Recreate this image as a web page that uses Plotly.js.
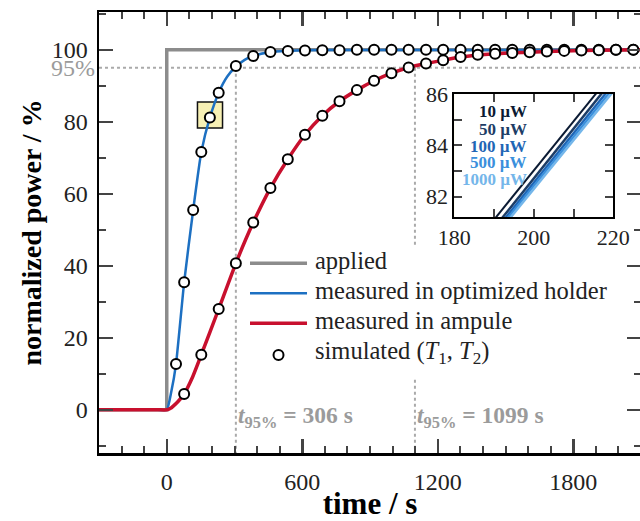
<!DOCTYPE html>
<html><head><meta charset="utf-8">
<script src="https://cdn.plot.ly/plotly-3.0.1.min.js"></script>
<style>html,body{margin:0;padding:0;overflow:hidden;background:#fff}</style>
</head><body><div id="chart" style="width:642px;height:521px"></div>
<script>
// ---- data ----
const appliedT = [-300, 0, 0, 2100];
const appliedP = [0, 0, 100, 100];

const holderT = [-300, -150, -40, 0, 20, 41, 77, 117, 153, 191, 230, 268, 306, 345, 383, 459, 536, 612, 765, 2100];
const holderP = [0, 0, 0, 0, 5, 12.7, 35.4, 55.5, 71.6, 81.2, 88.1, 92.6, 95.3, 97.2, 98.3, 99.4, 99.7, 99.85, 99.95, 100];

const ampuleT = [-300, -150, -40, 0, 15, 30, 50, 77, 115, 153, 230, 306, 383, 459, 536, 612, 689, 765, 842, 918, 995, 1071, 1148, 1224, 1301, 1454, 1607, 1760, 1913, 2100];
const ampuleP = [0, 0, 0, 0, 0.35, 1.1, 2.3, 4.4, 9.2, 15.3, 28, 40.7, 52, 61.6, 69.6, 76.4, 81.7, 85.7, 88.8, 91.4, 93.5, 95.1, 96.2, 97.1, 98, 98.9, 99.3, 99.7, 99.9, 100];

const simHolderT = [41, 77, 117, 153, 191, 230, 306, 383, 459, 536, 612, 689, 765, 842, 918, 995, 1071, 1148, 1224, 1301, 1377, 1454, 1530, 1607, 1683, 1760, 1836, 1913, 1989, 2066];
const simHolderP = [12.7, 35.4, 55.5, 71.6, 81.2, 88.1, 95.5, 98.3, 99.4, 99.7, 99.8, 99.9, 99.9, 100, 100, 100, 100, 100, 100, 100, 100, 100, 100, 100, 100, 100, 100, 100, 100, 100];

const simAmpuleT = [77, 153, 230, 306, 383, 459, 536, 612, 689, 765, 842, 918, 995, 1071, 1148, 1224, 1301, 1377, 1454, 1530, 1607, 1683, 1760, 1836, 1913, 1989, 2066];
const simAmpuleP = [4.4, 15.3, 28, 40.7, 52, 61.6, 69.6, 76.4, 81.7, 85.7, 88.8, 91.4, 93.5, 95.1, 96.2, 97.1, 98, 98.6, 98.9, 99.1, 99.3, 99.5, 99.7, 99.8, 99.9, 100, 100];

const t95Values = [306, 1099];
const level95 = 95;

const legendNames = ['applied', 'measured in optimized holder', 'measured in ampule', 'simulated (<i>T</i><sub>1</sub>, <i>T</i><sub>2</sub>)'];

const insetLabels = ['10 µW', '50 µW', '100 µW', '500 µW', '1000 µW'];
const insetT = [[189.5, 216.6], [191.2, 218.0], [192.0, 219.0], [192.6, 219.8], [193.2, 220.5]];
const insetP = [[81, 86.2], [81, 86.2], [81, 86.2], [81, 86.2], [81, 86.2]];
const insetLabelP = [85.3, 84.63, 83.97, 83.32, 82.66];

// ---- styles ----
const SERIF = 'Liberation Serif, Times New Roman, serif';
const GREY = '#8c8c8c';
const BLUE = '#1d70c2';
const RED = '#c8102e';
const insetColors = ['#0b1a33', '#1d3d66', '#1f66b5', '#3a8fdc', '#74b6ea'];
const circleMarker = {symbol: 'circle', size: 10, color: '#fff', line: {color: '#000', width: 2}};

const traces = [
  {x: appliedT, y: appliedP, mode: 'lines', name: legendNames[0], showlegend: false, line: {color: GREY, width: 3.5}},
  {x: holderT, y: holderP, mode: 'lines', name: legendNames[1], showlegend: false, line: {color: BLUE, width: 2.5, shape: 'spline', smoothing: 0.5}},
  {x: ampuleT, y: ampuleP, mode: 'lines', name: legendNames[2], showlegend: false, line: {color: RED, width: 3.5, shape: 'spline', smoothing: 0.5}},
  {x: simHolderT, y: simHolderP, mode: 'markers', name: legendNames[3], showlegend: false, marker: circleMarker},
  {x: simAmpuleT, y: simAmpuleP, mode: 'markers', name: legendNames[3], showlegend: false, marker: circleMarker}
];
insetT.forEach((tx, i) => {
  traces.push({x: tx, y: insetP[i], xaxis: 'x2', yaxis: 'y2', mode: 'lines', name: insetLabels[i], showlegend: false,
    line: {color: insetColors[i], width: i === 0 ? 2 : 2.5}});
});

const shapes = [
  {type: 'line', xref: 'paper', yref: 'y', x0: 0, x1: 1, y0: level95, y1: level95, layer: 'below', line: {color: '#aaa', width: 2, dash: 'dot'}},
  {type: 'rect', xref: 'x', yref: 'y', x0: 136, x1: 247, y0: 78.3, y1: 85.5, layer: 'below', fillcolor: '#f7f0b4', line: {color: '#111', width: 1.5}},
  {type: 'rect', xref: 'x2 domain', yref: 'y2 domain', x0: 0, x1: 1, y0: 0, y1: 1, layer: 'below', fillcolor: '#fbf5c0', line: {width: 0}}
];
t95Values.forEach(t => shapes.push({type: 'line', xref: 'x', yref: 'y', x0: t, x1: t, y0: level95, y1: -12, layer: 'below', line: {color: '#aaa', width: 2, dash: 'dot'}}));

// custom legend (paper coordinates)
const legRows = [0.4302, 0.3621, 0.2941, 0.2222];
const legColors = [GREY, BLUE, RED];
shapes.push({type: 'rect', xref: 'paper', yref: 'paper', x0: 0.275, x1: 0.95, y0: 0.168, y1: 0.468, layer: 'above', fillcolor: '#fff', line: {width: 0}});
legColors.forEach((c, i) => shapes.push({type: 'line', xref: 'paper', yref: 'paper', x0: 0.2786, x1: 0.3838, y0: legRows[i], y1: legRows[i], layer: 'above',
  line: {color: c, width: i === 1 ? 2.5 : 3.5}}));
shapes.push({type: 'circle', xref: 'paper', yref: 'paper', xsizemode: 'pixel', ysizemode: 'pixel', xanchor: 0.3312, yanchor: legRows[3],
  x0: -5, x1: 5, y0: -5, y1: 5, layer: 'above', fillcolor: '#fff', line: {color: '#000', width: 2}});

const annotations = [
  {xref: 'paper', yref: 'y', x: 0, y: level95, xanchor: 'right', yanchor: 'middle', xshift: -2, showarrow: false,
   text: '95%', font: {family: SERIF, size: 24, color: '#9b9b9b'}}
];
legendNames.forEach((n, i) => annotations.push({xref: 'paper', yref: 'paper', x: 0.3948, y: legRows[i] + 0.0057, xanchor: 'left', yanchor: 'middle',
  showarrow: false, text: n, font: {family: SERIF, size: 24.5, color: '#222'}}));
t95Values.forEach(t => annotations.push({xref: 'x', yref: 'y', x: t, y: -2, xanchor: 'left', yanchor: 'middle', xshift: 0, showarrow: false,
  text: '<b><i>t</i><sub>95%</sub> = ' + t + ' s</b>', font: {family: SERIF, size: 23.5, color: '#9b9b9b'}}));
insetLabels.forEach((lab, i) => annotations.push({xref: 'x2', yref: 'y2', x: 198.8, y: insetLabelP[i], xanchor: 'right', yanchor: 'middle', showarrow: false,
  text: '<b>' + lab + '</b>', font: {family: SERIF, size: 17, color: insetColors[i]}}));

const axBase = {showline: true, linecolor: '#000', mirror: 'ticks', ticks: 'inside', zeroline: false, showgrid: false};

const layout = {
  width: 642, height: 521,
  margin: {l: 99, r: 1, t: 12, b: 68},
  paper_bgcolor: '#fff', plot_bgcolor: '#fff',
  font: {family: SERIF, color: '#000'},
  showlegend: false,
  xaxis: Object.assign({}, axBase, {range: [-300, 2100], tick0: 0, dtick: 600, ticklen: 14, tickwidth: 2.5, linewidth: 2.5,
    minor: {dtick: 100, tick0: 0, ticks: 'inside', ticklen: 7, tickwidth: 2},
    tickfont: {family: SERIF, size: 24, color: '#222'}, ticklabelstandoff: 6,
    title: {text: '<b>time / s</b>', font: {family: SERIF, size: 31, color: '#000'}, standoff: 2}}),
  yaxis: Object.assign({}, axBase, {range: [-12, 110.5], tick0: 0, dtick: 20, ticklen: 14, tickwidth: 2.5, linewidth: 2.5,
    minor: {dtick: 10, tick0: 0, ticks: 'inside', ticklen: 7, tickwidth: 2},
    tickfont: {family: SERIF, size: 24, color: '#222'}, ticklabelstandoff: 4,
    title: {text: '<b>normalized power / %</b>', font: {family: SERIF, size: 28, color: '#000'}, standoff: 2}}),
  xaxis2: Object.assign({}, axBase, {domain: [0.6555, 0.9489], anchor: 'y2', range: [180, 220], tick0: 180, dtick: 20,
    ticklen: 8, tickwidth: 2, linewidth: 2, minor: {dtick: 10, tick0: 180, ticks: 'inside', ticklen: 8, tickwidth: 2},
    tickfont: {family: SERIF, size: 22, color: '#222'}}),
  yaxis2: Object.assign({}, axBase, {domain: [0.5351, 0.814], anchor: 'x2', range: [81.2, 86], tick0: 80, dtick: 2,
    ticklen: 8, tickwidth: 2, linewidth: 2, minor: {dtick: 1, tick0: 80, ticks: 'inside', ticklen: 8, tickwidth: 2},
    tickfont: {family: SERIF, size: 22, color: '#222'}}),
  shapes: shapes,
  annotations: annotations,
  hovermode: false
};

Plotly.newPlot('chart', traces, layout, {staticPlot: true, displayModeBar: false});
</script></body></html>
